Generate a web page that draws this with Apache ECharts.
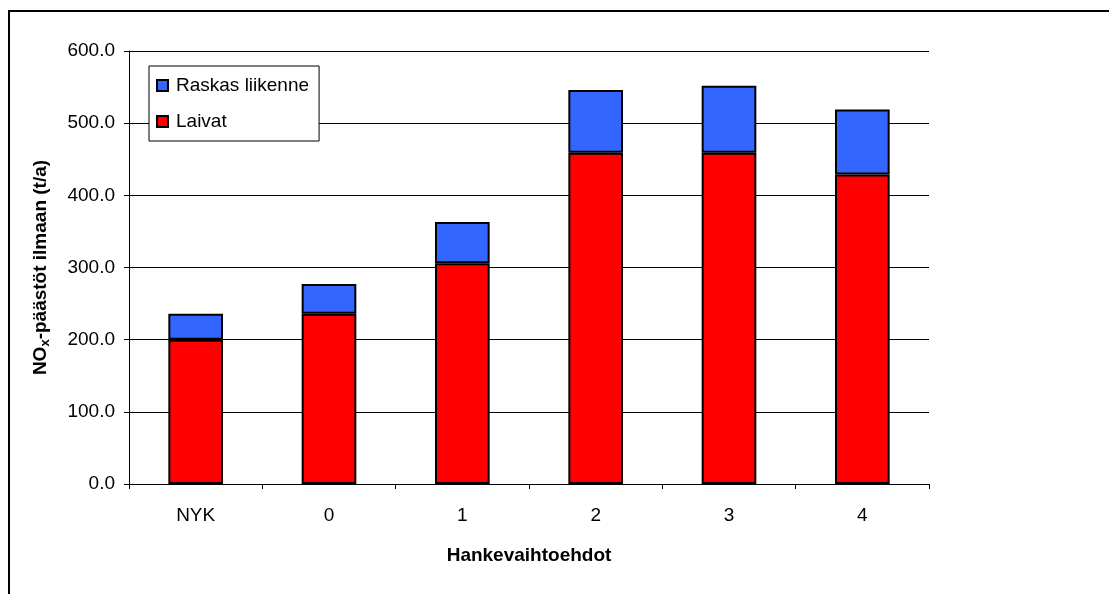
<!DOCTYPE html>
<html lang="fi">
<head>
    <meta charset="UTF-8">
    <title>NOx-päästöt</title>
    <script src="https://cdn.jsdelivr.net/npm/echarts@6/dist/echarts.min.js"></script>
    <style type="text/css">
        *{margin: 0;padding: 0;border: none}
        html,body{width: 100%;height: 100%;overflow: hidden;background: #fff}
        #main{width: 1109px;height: 594px}
    </style>
</head>
<body>
<div id="main"></div>
<script type="text/javascript">
    // data (t/a)
    var categories = ['NYK', '0', '1', '2', '3', '4'];
    var laivat = [200, 236, 306, 459, 459, 429];
    var raskas = [36, 41, 57, 87, 93, 90];
    var yTicks = [0, 100, 200, 300, 400, 500, 600];

    var font = 'Liberation Sans, Arial, sans-serif';
    var myChart = echarts.init(document.getElementById('main'));

    var option = {
        backgroundColor: '#fff',
        animation: false,
        textStyle: {fontFamily: font, color: '#000'},
        graphic: [{
            type: 'rect',
            shape: {x: 9, y: 11, width: 1200, height: 700},
            style: {fill: 'none', stroke: '#000', lineWidth: 2},
            silent: true
        }],
        grid: {left: 129, right: 180, top: 51, bottom: 110},
        legend: {
            orient: 'vertical',
            left: 149,
            top: 66,
            width: 150,
            padding: [10, 10, 10, 7],
            itemGap: 17,
            itemWidth: 11,
            itemHeight: 11,
            borderColor: '#000',
            borderWidth: 1,
            backgroundColor: '#fff',
            icon: 'rect',
            data: ['Raskas liikenne', 'Laivat'],
            textStyle: {fontFamily: font, fontSize: 19, color: '#000', padding: [0, 0, 0, 3]}
        },
        xAxis: {
            type: 'category',
            data: categories,
            name: 'Hankevaihtoehdot',
            nameLocation: 'middle',
            nameGap: 62,
            nameTextStyle: {fontFamily: font, fontSize: 19, fontWeight: 'bold', color: '#000'},
            axisLine: {lineStyle: {color: '#000', width: 1}},
            axisTick: {show: true, length: 5, lineStyle: {color: '#000'}},
            axisLabel: {fontFamily: font, fontSize: 19, color: '#000', margin: 22}
        },
        yAxis: {
            type: 'value',
            min: yTicks[0],
            max: yTicks[yTicks.length - 1],
            interval: 100,
            name: '{b|NO}{s|x}{b|-päästöt ilmaan (t/a)}',
            nameLocation: 'middle',
            nameGap: 77,
            nameRotate: 90,
            nameTextStyle: {
                rich: {
                    b: {fontFamily: font, fontSize: 19, fontWeight: 'bold', color: '#000'},
                    s: {fontFamily: font, fontSize: 13, fontWeight: 'bold', color: '#000', padding: [9, 0, 0, 0]}
                }
            },
            axisLine: {show: true, lineStyle: {color: '#000', width: 1}},
            axisTick: {show: true, length: 5, lineStyle: {color: '#000'}},
            axisLabel: {
                fontFamily: font, fontSize: 19, color: '#000', margin: 14,
                formatter: function (v) { return v.toFixed(1); }
            },
            splitLine: {show: true, lineStyle: {color: '#000', width: 1}}
        },
        series: [
            {
                name: 'Laivat',
                type: 'bar',
                stack: 'nox',
                barCategoryGap: '59%',
                data: laivat,
                itemStyle: {color: '#ff0000', borderColor: '#000', borderWidth: 2}
            },
            {
                name: 'Raskas liikenne',
                type: 'bar',
                stack: 'nox',
                barCategoryGap: '59%',
                data: raskas,
                itemStyle: {color: '#3366ff', borderColor: '#000', borderWidth: 2}
            }
        ]
    };
    myChart.setOption(option);
</script>
</body>
</html>
